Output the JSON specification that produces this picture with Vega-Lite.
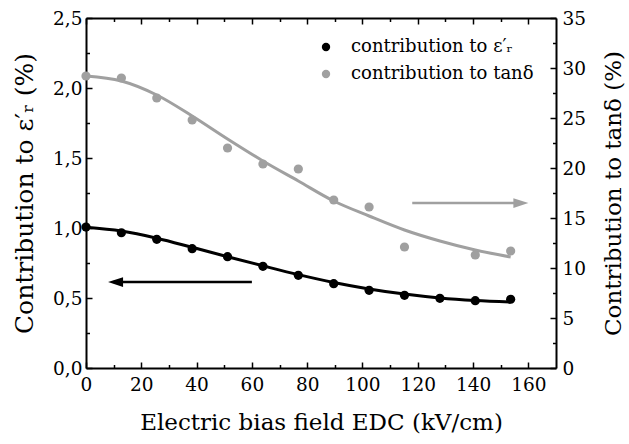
{
  "$schema": "https://vega.github.io/schema/vega-lite/v6.json",
  "width": 470,
  "height": 350,
  "autosize": {"type": "none"},
  "padding": {"left": 86, "top": 18, "right": 73, "bottom": 76},
  "background": "white",
  "datasets": {
    "pts": [
      {"E": 0, "series": "contribution to ε′ᵣ", "v": 1.007},
      {"E": 12.8, "series": "contribution to ε′ᵣ", "v": 0.966},
      {"E": 25.6, "series": "contribution to ε′ᵣ", "v": 0.919},
      {"E": 38.4, "series": "contribution to ε′ᵣ", "v": 0.852},
      {"E": 51.2, "series": "contribution to ε′ᵣ", "v": 0.795},
      {"E": 64, "series": "contribution to ε′ᵣ", "v": 0.726},
      {"E": 76.8, "series": "contribution to ε′ᵣ", "v": 0.662},
      {"E": 89.6, "series": "contribution to ε′ᵣ", "v": 0.602},
      {"E": 102.4, "series": "contribution to ε′ᵣ", "v": 0.555},
      {"E": 115.2, "series": "contribution to ε′ᵣ", "v": 0.519},
      {"E": 128, "series": "contribution to ε′ᵣ", "v": 0.498},
      {"E": 140.8, "series": "contribution to ε′ᵣ", "v": 0.481},
      {"E": 153.6, "series": "contribution to ε′ᵣ", "v": 0.491},
      {"E": 0, "series": "contribution to tanδ", "v": 29.2},
      {"E": 12.8, "series": "contribution to tanδ", "v": 29.0},
      {"E": 25.6, "series": "contribution to tanδ", "v": 27.0},
      {"E": 38.4, "series": "contribution to tanδ", "v": 24.8},
      {"E": 51.2, "series": "contribution to tanδ", "v": 22.0},
      {"E": 64, "series": "contribution to tanδ", "v": 20.4},
      {"E": 76.8, "series": "contribution to tanδ", "v": 19.9},
      {"E": 89.6, "series": "contribution to tanδ", "v": 16.8},
      {"E": 102.4, "series": "contribution to tanδ", "v": 16.1},
      {"E": 115.2, "series": "contribution to tanδ", "v": 12.1},
      {"E": 140.8, "series": "contribution to tanδ", "v": 11.3},
      {"E": 153.6, "series": "contribution to tanδ", "v": 11.7}
    ],
    "fitEps": [
      {"E": 0, "v": 1.005}, {"E": 12.8, "v": 0.978}, {"E": 25.6, "v": 0.927},
      {"E": 38.4, "v": 0.862}, {"E": 51.2, "v": 0.795}, {"E": 64, "v": 0.73},
      {"E": 76.8, "v": 0.667}, {"E": 89.6, "v": 0.611}, {"E": 102.4, "v": 0.565},
      {"E": 115.2, "v": 0.528}, {"E": 128, "v": 0.5}, {"E": 140.8, "v": 0.482},
      {"E": 153.6, "v": 0.471}
    ],
    "fitTan": [
      {"E": 0, "v": 29.2}, {"E": 12.8, "v": 28.7}, {"E": 25.6, "v": 27.3},
      {"E": 38.4, "v": 25.2}, {"E": 51.2, "v": 22.9}, {"E": 64, "v": 20.7},
      {"E": 76.8, "v": 18.7}, {"E": 89.6, "v": 16.7}, {"E": 102.4, "v": 15.2},
      {"E": 115.2, "v": 13.8}, {"E": 128, "v": 12.7}, {"E": 140.8, "v": 11.8},
      {"E": 153.6, "v": 11.1}
    ],
    "arrowEps": [{"x1": 10, "x2": 60, "tip": 10.7, "y": 0.614}],
    "arrowTan": [{"x1": 118, "x2": 157, "tip": 157.3, "y": 16.5}]
  },
  "layer": [
    {
      "data": {"name": "fitEps"},
      "mark": {"type": "line", "color": "#000000", "strokeWidth": 3, "interpolate": "monotone"},
      "encoding": {
        "x": {"field": "E", "type": "quantitative", "scale": {"domain": [0, 170], "nice": false},
          "axis": {"orient": "top", "values": [0, 20, 40, 60, 80, 100, 120, 140, 160], "labels": false, "title": null, "tickSize": -6, "domain": true}},
        "y": {"field": "v", "type": "quantitative", "scale": {"domain": [0, 2.5], "nice": false},
          "axis": {"orient": "left", "values": [0.25, 0.75, 1.25, 1.75, 2.25], "labels": false, "title": null, "tickSize": -3.5, "domain": false}}
      }
    },
    {
      "data": {"name": "fitTan"},
      "mark": {"type": "line", "color": "#a0a0a0", "strokeWidth": 3, "interpolate": "monotone"},
      "encoding": {
        "x": {"field": "E", "type": "quantitative", "scale": {"domain": [0, 170], "nice": false}, "axis": null},
        "y": {"field": "v", "type": "quantitative", "scale": {"domain": [0, 35], "nice": false},
          "axis": {"orient": "right", "values": [2.5, 7.5, 12.5, 17.5, 22.5, 27.5, 32.5], "labels": false, "title": null, "tickSize": -3.5, "domain": false}}
      }
    },
    {
      "data": {"name": "arrowEps"},
      "mark": {"type": "rule", "color": "#000000", "strokeWidth": 2.5},
      "encoding": {
        "x": {"field": "x1", "type": "quantitative", "scale": {"domain": [0, 170], "nice": false},
          "axis": {"orient": "bottom", "values": [10, 30, 50, 70, 90, 110, 130, 150], "labels": false, "title": null, "tickSize": -3.5, "domain": false}},
        "x2": {"field": "x2"},
        "y": {"field": "y", "type": "quantitative", "scale": {"domain": [0, 2.5], "nice": false}, "axis": null}
      }
    },
    {
      "data": {"name": "arrowEps"},
      "mark": {"type": "point", "filled": true, "color": "#000000", "opacity": 1, "size": 225, "shape": "M-1,0L1,-0.65L1,0.65Z"},
      "encoding": {
        "x": {"field": "tip", "type": "quantitative", "scale": {"domain": [0, 170], "nice": false},
          "axis": {"orient": "top", "values": [10, 30, 50, 70, 90, 110, 130, 150], "labels": false, "title": null, "tickSize": -3.5, "domain": false}},
        "y": {"field": "y", "type": "quantitative", "scale": {"domain": [0, 2.5], "nice": false}, "axis": null}
      }
    },
    {
      "data": {"name": "arrowTan"},
      "mark": {"type": "rule", "color": "#a0a0a0", "strokeWidth": 2.5},
      "encoding": {
        "x": {"field": "x1", "type": "quantitative", "scale": {"domain": [0, 170], "nice": false}, "axis": null},
        "x2": {"field": "x2"},
        "y": {"field": "y", "type": "quantitative", "scale": {"domain": [0, 35], "nice": false}, "axis": null}
      }
    },
    {
      "data": {"name": "arrowTan"},
      "mark": {"type": "point", "filled": true, "color": "#a0a0a0", "opacity": 1, "size": 225, "shape": "M1,0L-1,-0.65L-1,0.65Z"},
      "encoding": {
        "x": {"field": "tip", "type": "quantitative", "scale": {"domain": [0, 170], "nice": false}, "axis": null},
        "y": {"field": "y", "type": "quantitative", "scale": {"domain": [0, 35], "nice": false}, "axis": null}
      }
    },
    {
      "data": {"name": "pts"},
      "transform": [{"filter": "datum.series === 'contribution to ε′ᵣ'"}],
      "mark": {"type": "point", "filled": true, "opacity": 1, "size": 85},
      "encoding": {
        "x": {"field": "E", "type": "quantitative", "scale": {"domain": [0, 170], "nice": false},
          "axis": {"orient": "bottom", "values": [0, 20, 40, 60, 80, 100, 120, 140, 160], "format": "d", "title": "Electric bias field EDC (kV/cm)", "tickSize": -6, "labelPadding": 13, "titlePadding": 18}},
        "y": {"field": "v", "type": "quantitative", "scale": {"domain": [0, 2.5], "nice": false},
          "axis": {"orient": "left", "values": [0, 0.5, 1, 1.5, 2, 2.5], "labelExpr": "replace(format(datum.value, '.1f'), '.', ',')", "title": "Contribution to ε′ᵣ  (%)", "titleFontSize": 25, "tickSize": -6, "labelPadding": 10, "titlePadding": 15}},
        "color": {"field": "series", "type": "nominal",
          "scale": {"domain": ["contribution to ε′ᵣ", "contribution to tanδ"], "range": ["#000000", "#a0a0a0"]},
          "legend": {"orient": "none", "legendX": 231, "legendY": 20, "title": null, "symbolType": "circle", "symbolSize": 70, "labelFontSize": 18, "labelOffset": 16, "rowPadding": 9, "labelFont": "DejaVu Serif", "labelColor": "#000000", "labelLimit": 0, "padding": 0}}
      }
    },
    {
      "data": {"name": "pts"},
      "transform": [{"filter": "datum.series === 'contribution to tanδ'"}],
      "mark": {"type": "point", "filled": true, "opacity": 1, "size": 85},
      "encoding": {
        "x": {"field": "E", "type": "quantitative", "scale": {"domain": [0, 170], "nice": false}, "axis": null},
        "y": {"field": "v", "type": "quantitative", "scale": {"domain": [0, 35], "nice": false},
          "axis": {"orient": "right", "values": [0, 5, 10, 15, 20, 25, 30, 35], "format": "d", "title": "Contribution to tanδ (%)", "titleFontSize": 23, "titleAngle": 270, "titleBaseline": "top", "tickSize": -6, "labelPadding": 12, "titlePadding": 17}},
        "color": {"field": "series", "type": "nominal"}
      }
    }
  ],
  "resolve": {"scale": {"y": "independent"}, "axis": {"x": "independent", "y": "independent"}},
  "config": {
    "font": "DejaVu Serif",
    "view": {"stroke": null},
    "axis": {
      "grid": false,
      "domainColor": "#000000",
      "domainWidth": 2,
      "tickColor": "#000000",
      "tickWidth": 1.5,
      "labelFont": "DejaVu Serif",
      "labelFontSize": 18.5,
      "labelColor": "#000000",
      "titleFont": "DejaVu Serif",
      "titleFontSize": 23,
      "titleFontWeight": "normal",
      "titleColor": "#000000",
      "labelFlush": false,
      "labelOverlap": false
    }
  }
}
